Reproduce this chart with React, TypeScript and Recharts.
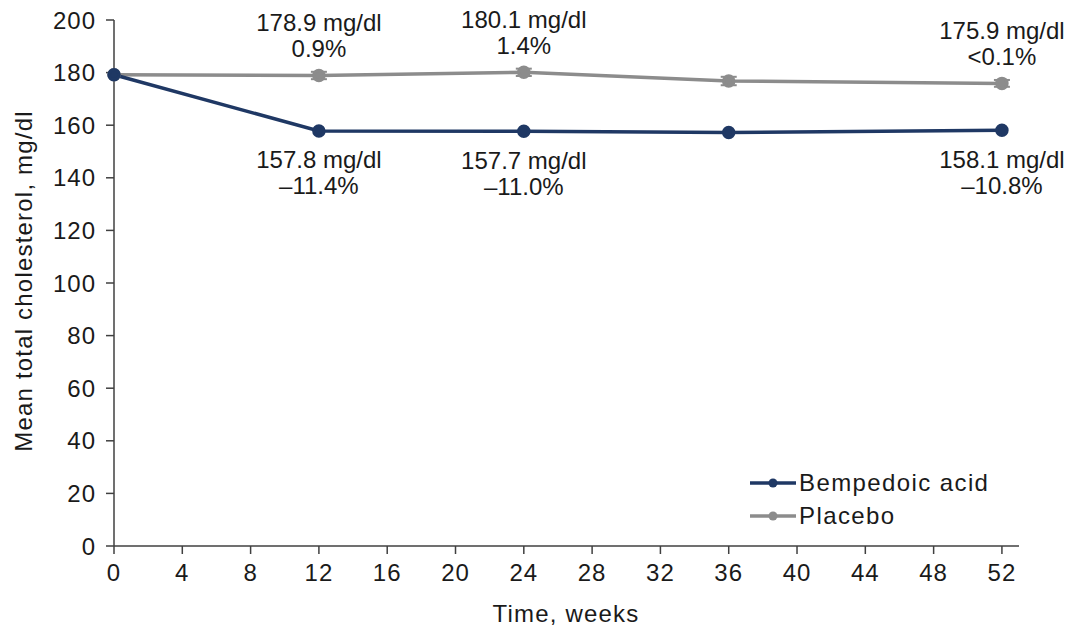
import React from 'react';
import { LineChart, Line, XAxis, YAxis, ErrorBar, LabelList } from 'recharts';

document.body.style.margin = '0';

const weeks = [0, 12, 24, 36, 52];
const bempedoic = [179.2, 157.8, 157.7, 157.2, 158.1];
const placebo = [179.2, 178.9, 180.1, 176.8, 175.9];
const placeboErr = [0, 1.4, 1.4, 1.6, 1.3];
const bempedoicTop = ['', '157.8 mg/dl', '157.7 mg/dl', '', '158.1 mg/dl'];
const bempedoicBottom = ['', '\u201311.4%', '\u201311.0%', '', '\u201310.8%'];
const placeboTop = ['', '178.9 mg/dl', '180.1 mg/dl', '', '175.9 mg/dl'];
const placeboBottom = ['', '0.9%', '1.4%', '', '<0.1%'];
const xTicks = [0, 4, 8, 12, 16, 20, 24, 28, 32, 36, 40, 44, 48, 52];
const yTicks = [0, 20, 40, 60, 80, 100, 120, 140, 160, 180, 200];

const BLUE = '#1f3864';
const GREY = '#8c8c8c';
const TEXT = '#1a1a1a';
const FONT = '"Liberation Sans", Arial, sans-serif';

const data = weeks.map((w, i) => ({
  week: w,
  bempedoic: bempedoic[i],
  placebo: placebo[i],
  placeboErr: placeboErr[i],
}));

const makeLabel = (top: string[], bottom: string[], above: boolean) => (props: any) => {
  const { x, y, index } = props;
  if (!top[index]) return null;
  const y1 = above ? y - 53 : y + 29;
  const y2 = above ? y - 27 : y + 55;
  return (
    <g>
      <text x={x} y={y1} textAnchor="middle" dominantBaseline="central" fontSize={24} fill={TEXT} fontFamily={FONT}>
        {top[index]}
      </text>
      <text x={x} y={y2} textAnchor="middle" dominantBaseline="central" fontSize={24} fill={TEXT} fontFamily={FONT}>
        {bottom[index]}
      </text>
    </g>
  );
};

const YTitle = () => (
  <text x={23} y={281} transform="rotate(-90 23 281)" textAnchor="middle" dominantBaseline="central" fontSize={24} letterSpacing={1.2} fill={TEXT} fontFamily={FONT}>
    Mean total cholesterol, mg/dl
  </text>
);

const XTitle = () => (
  <text x={566} y={613} textAnchor="middle" dominantBaseline="central" fontSize={24} letterSpacing={1.2} fill={TEXT} fontFamily={FONT}>
    Time, weeks
  </text>
);

const LegendBox = () => (
  <div style={{ position: 'absolute', left: 750, top: 466, fontFamily: FONT, fontSize: 24, letterSpacing: 1.4, color: TEXT }}>
    {[
      { name: 'Bempedoic acid', color: BLUE },
      { name: 'Placebo', color: GREY },
    ].map((e) => (
      <div key={e.name} style={{ display: 'flex', alignItems: 'center', height: 33 }}>
        <svg width={46} height={12} style={{ marginRight: 3 }}>
          <line x1={0} y1={6} x2={46} y2={6} stroke={e.color} strokeWidth={3.5} />
          <circle cx={23} cy={6} r={4.5} fill={e.color} />
        </svg>
        <span>{e.name}</span>
      </div>
    ))}
  </div>
);

const tickStyle = { fill: TEXT, fontSize: 24, fontFamily: FONT, letterSpacing: 1 };

export default function App() {
  return (
    <div style={{ position: 'relative', width: 1077, height: 631 }}>
      <LineChart width={1077} height={631} data={data} margin={{ top: 20, right: 58, bottom: 55, left: 0 }}>
        <XAxis
          dataKey="week"
          type="number"
          domain={[0, 53]}
          ticks={xTicks}
          interval={0}
          height={30}
          tickSize={8}
          tickMargin={10}
          axisLine={{ stroke: '#404040', strokeWidth: 1.5 }}
          tickLine={{ stroke: '#404040', strokeWidth: 1.5 }}
          tick={tickStyle}
          label={<XTitle />}
        />
        <YAxis
          type="number"
          domain={[0, 200]}
          ticks={yTicks}
          interval={0}
          width={114}
          tickSize={8}
          tickMargin={10}
          axisLine={{ stroke: '#404040', strokeWidth: 1.5 }}
          tickLine={{ stroke: '#404040', strokeWidth: 1.5 }}
          tick={tickStyle}
          label={<YTitle />}
        />
        <Line
          dataKey="placebo"
          name="Placebo"
          stroke={GREY}
          strokeWidth={3.5}
          dot={{ r: 5, fill: GREY, stroke: GREY }}
          isAnimationActive={false}
        >
          <ErrorBar dataKey="placeboErr" width={8} stroke={GREY} strokeWidth={2} direction="y" />
          <LabelList dataKey="placebo" content={makeLabel(placeboTop, placeboBottom, true)} />
        </Line>
        <Line
          dataKey="bempedoic"
          name="Bempedoic acid"
          stroke={BLUE}
          strokeWidth={3.5}
          dot={{ r: 5, fill: BLUE, stroke: BLUE }}
          isAnimationActive={false}
        >
          <LabelList dataKey="bempedoic" content={makeLabel(bempedoicTop, bempedoicBottom, false)} />
        </Line>
      </LineChart>
      <LegendBox />
    </div>
  );
}
